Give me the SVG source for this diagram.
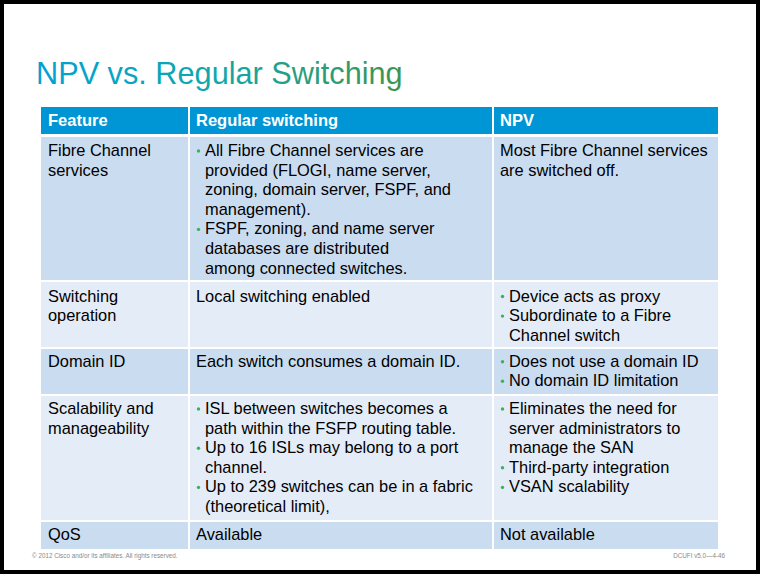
<svg xmlns="http://www.w3.org/2000/svg" width="760" height="574" viewBox="0 0 760 574">
<defs>
<linearGradient id="tg" x1="36" y1="0" x2="402" y2="0" gradientUnits="userSpaceOnUse">
<stop offset="0" stop-color="#00a2d6"/>
<stop offset="0.5" stop-color="#12a7a8"/>
<stop offset="1" stop-color="#3d9552"/>
</linearGradient>
</defs>
<style>
text{font-family:"Liberation Sans",Arial,sans-serif;}
.t{font-size:16.4px;fill:#000;}
.h{font-size:16.5px;font-weight:bold;fill:#fff;}
.hd{fill:#0095d4;}
.dk{fill:#cadcf0;}
.lt{fill:#e4ecf7;}
.b{fill:#3cb05a;}
.f{font-size:6.3px;fill:#8a8a8a;}
</style>
<rect width="760" height="574" fill="#000"/>
<rect x="4" y="4" width="752" height="566" fill="#fff"/>
<text id="title" x="36" y="84" font-size="30.7" fill="url(#tg)">NPV vs. Regular Switching</text>

<g id="header">
<rect class="hd" x="41" y="107" width="147" height="27"/>
<rect class="hd" x="190" y="107" width="302" height="27"/>
<rect class="hd" x="494" y="107" width="224" height="27"/>
<text class="h" x="48" y="126">Feature</text>
<text class="h" x="196" y="126">Regular switching</text>
<text class="h" x="500" y="126">NPV</text>
</g>

<g id="row-fc">
<rect class="dk" x="41" y="137" width="147" height="143"/>
<rect class="dk" x="190" y="137" width="302" height="143"/>
<rect class="dk" x="494" y="137" width="224" height="143"/>
<text class="t" x="48" y="156">Fibre Channel</text>
<text class="t" x="48" y="175.6">services</text>
<circle class="b" cx="198.5" cy="151" r="1.7"/>
<circle class="b" cx="198.5" cy="229.4" r="1.7"/>
<text class="t" x="205"><tspan x="205" y="156">All Fibre Channel services are</tspan><tspan x="205" y="175.6">provided (FLOGI, name server,</tspan><tspan x="205" y="195.2">zoning, domain server, FSPF, and</tspan><tspan x="205" y="214.8">management).</tspan><tspan x="205" y="234.4">FSPF, zoning, and name server</tspan><tspan x="205" y="254">databases are distributed</tspan><tspan x="205" y="273.6">among connected switches.</tspan></text>
<text class="t" x="500"><tspan x="500" y="156">Most Fibre Channel services</tspan><tspan x="500" y="175.6">are switched off.</tspan></text>
</g>

<g id="row-sw">
<rect class="lt" x="41" y="282" width="147" height="65"/>
<rect class="lt" x="190" y="282" width="302" height="65"/>
<rect class="lt" x="494" y="282" width="224" height="65"/>
<text class="t" x="48"><tspan x="48" y="301.5">Switching</tspan><tspan x="48" y="321.1">operation</tspan></text>
<text class="t" x="196" y="301.5">Local switching enabled</text>
<circle class="b" cx="502.5" cy="296.5" r="1.7"/>
<circle class="b" cx="502.5" cy="316.1" r="1.7"/>
<text class="t" x="509"><tspan x="509" y="301.5">Device acts as proxy</tspan><tspan x="509" y="321.1">Subordinate to a Fibre</tspan><tspan x="509" y="340.7">Channel switch</tspan></text>
</g>

<g id="row-dom">
<rect class="dk" x="41" y="349" width="147" height="45"/>
<rect class="dk" x="190" y="349" width="302" height="45"/>
<rect class="dk" x="494" y="349" width="224" height="45"/>
<text class="t" x="48" y="366.7">Domain ID</text>
<text class="t" x="196" y="366.7">Each switch consumes a domain ID.</text>
<circle class="b" cx="502.5" cy="361.7" r="1.7"/>
<circle class="b" cx="502.5" cy="381.3" r="1.7"/>
<text class="t" x="509"><tspan x="509" y="366.7">Does not use a domain ID</tspan><tspan x="509" y="386.3">No domain ID limitation</tspan></text>
</g>

<g id="row-scal">
<rect class="lt" x="41" y="396" width="147" height="124"/>
<rect class="lt" x="190" y="396" width="302" height="124"/>
<rect class="lt" x="494" y="396" width="224" height="124"/>
<text class="t" x="48"><tspan x="48" y="414">Scalability and</tspan><tspan x="48" y="433.6">manageability</tspan></text>
<circle class="b" cx="198.5" cy="409" r="1.7"/>
<circle class="b" cx="198.5" cy="448.2" r="1.7"/>
<circle class="b" cx="198.5" cy="487.4" r="1.7"/>
<text class="t" x="205"><tspan x="205" y="414">ISL between switches becomes a</tspan><tspan x="205" y="433.6">path within the FSFP routing table.</tspan><tspan x="205" y="453.2">Up to 16 ISLs may belong to a port</tspan><tspan x="205" y="472.8">channel.</tspan><tspan x="205" y="492.4">Up to 239 switches can be in a fabric</tspan><tspan x="205" y="512">(theoretical limit),</tspan></text>
<circle class="b" cx="502.5" cy="409" r="1.7"/>
<circle class="b" cx="502.5" cy="467.8" r="1.7"/>
<circle class="b" cx="502.5" cy="487.4" r="1.7"/>
<text class="t" x="509"><tspan x="509" y="414">Eliminates the need for</tspan><tspan x="509" y="433.6">server administrators to</tspan><tspan x="509" y="453.2">manage the SAN</tspan><tspan x="509" y="472.8">Third-party integration</tspan><tspan x="509" y="492.4">VSAN scalability</tspan></text>
</g>

<g id="row-qos">
<rect class="dk" x="41" y="522" width="147" height="27"/>
<rect class="dk" x="190" y="522" width="302" height="27"/>
<rect class="dk" x="494" y="522" width="224" height="27"/>
<text class="t" x="48" y="540">QoS</text>
<text class="t" x="196" y="540">Available</text>
<text class="t" x="500" y="540">Not available</text>
</g>

<g id="footer">
<text class="f" x="32" y="558">© 2012 Cisco and/or its affiliates. All rights reserved.</text>
<text class="f" x="725" y="558" text-anchor="end">DCUFI v5.0—4-46</text>
</g>
</svg>
